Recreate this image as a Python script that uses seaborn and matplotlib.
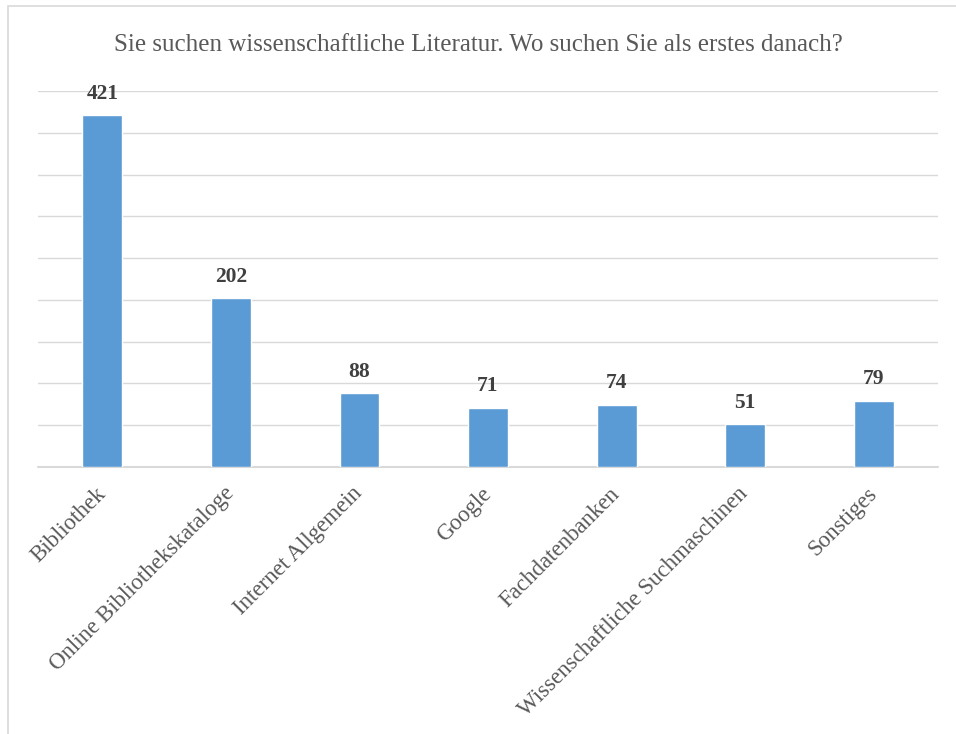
import matplotlib
matplotlib.use("Agg")
import matplotlib.pyplot as plt
import seaborn as sns
import pandas as pd
from matplotlib.patches import Rectangle

categories = ["Bibliothek", "Online Bibliothekskataloge", "Internet Allgemein", "Google",
              "Fachdatenbanken", "Wissenschaftliche Suchmaschinen", "Sonstiges"]
values = [421, 202, 88, 71, 74, 51, 79]
title = "Sie suchen wissenschaftliche Literatur. Wo suchen Sie als erstes danach?"

df = pd.DataFrame({"cat": categories, "val": values})

sns.set_style("white")
plt.rcParams["font.family"] = ["Liberation Serif", "DejaVu Serif"]

fig = plt.figure(figsize=(9.56, 7.34), dpi=100)
ax = fig.add_axes([38/956, 1-467/734, 900/956, (467-91)/734])

sns.barplot(data=df, x="cat", y="val", color="#5B9BD5", saturation=1, width=0.31, ax=ax)

ax.set_ylim(0, 450)
ax.set_yticks(range(0, 451, 50))
ax.yaxis.grid(True, color="#d9d9d9", linewidth=1)
ax.set_axisbelow(True)
ax.axhline(0, color="#d9d9d9", linewidth=1.5, clip_on=False, zorder=0.5)
ax.tick_params(axis="y", length=0, labelleft=False)
ax.tick_params(axis="x", length=0, pad=17)
for s in ax.spines.values():
    s.set_visible(False)
ax.set_xlabel("")
ax.set_ylabel("")
ax.set_xlim(-0.5, len(categories) - 0.5)

for lbl in ax.get_xticklabels():
    lbl.set_rotation(45)
    lbl.set_ha("right")
    lbl.set_va("center")
    lbl.set_rotation_mode("anchor")
    lbl.set_fontsize(16.5)
    lbl.set_color("#595959")

for i, v in enumerate(values):
    ax.text(i, v + 20, str(v), ha="center", va="baseline", fontsize=15.5,
            fontweight="bold", color="#404040")

fig.text(0.5, 1-45/734, title, ha="center", va="center", fontsize=18, color="#595959")

fig.patches.append(Rectangle((8/956, -0.1), 1.1, 1-6/734+0.1, transform=fig.transFigure,
                             fill=False, edgecolor="#d9d9d9", linewidth=1.2))

fig.savefig("out.png", dpi=100)
